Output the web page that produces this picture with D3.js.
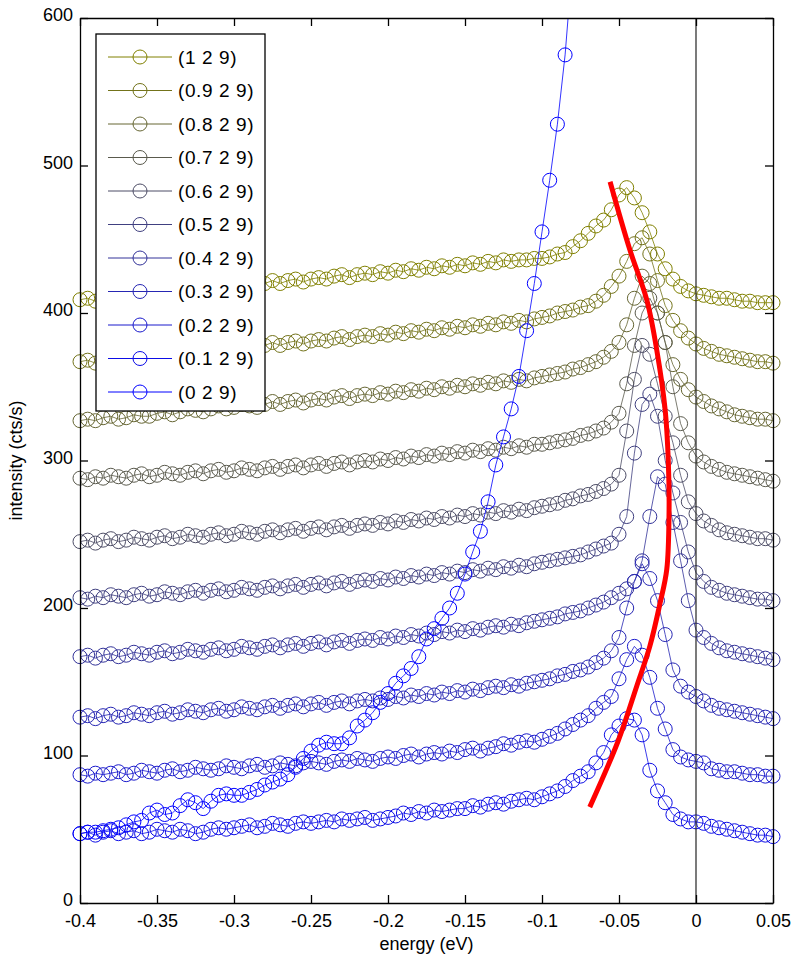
<!DOCTYPE html>
<html>
<head>
<meta charset="utf-8">
<script src="https://cdn.jsdelivr.net/npm/d3@7"></script>
<style>
  body { margin: 0; background: #fff; }
  text { font-family: "Liberation Sans", Arial, sans-serif; fill: #000; }
</style>
</head>
<body>
<svg id="chart" width="797" height="961"></svg>
<script>
// ========== DATA ==========
// energy grid (eV), shared by all scans
const energy = [-0.400,-0.395,-0.390,-0.385,-0.380,-0.375,-0.370,-0.365,-0.360,-0.355,
  -0.350,-0.345,-0.340,-0.335,-0.330,-0.325,-0.320,-0.315,-0.310,-0.305,
  -0.300,-0.295,-0.290,-0.285,-0.280,-0.275,-0.270,-0.265,-0.260,-0.255,
  -0.250,-0.245,-0.240,-0.235,-0.230,-0.225,-0.220,-0.215,-0.210,-0.205,
  -0.200,-0.195,-0.190,-0.185,-0.180,-0.175,-0.170,-0.165,-0.160,-0.155,
  -0.150,-0.145,-0.140,-0.135,-0.130,-0.125,-0.120,-0.115,-0.110,-0.105,
  -0.100,-0.095,-0.090,-0.085,-0.080,-0.075,-0.070,-0.065,-0.060,-0.055,
  -0.050,-0.045,-0.040,-0.035,-0.030,-0.025,-0.020,-0.015,-0.010,-0.005,
  0.000,0.005,0.010,0.015,0.020,0.025,0.030,0.035,0.040,0.045,0.050];

// intensity (cts/s), one array per (h 2 9) scan, offsets already included
const s129 = [409,410,408,410,411,410,411,413,412,412, 414,415,413,415,417,416,415,417,419,417,
  418,420,419,418,420,422,420,422,423,421, 423,424,423,425,426,424,426,427,426,428,
  427,429,428,430,429,431,430,432,431,433, 432,434,433,435,434,436,435,436,436,437,
  437,438,440,441,445,449,454,459,463,470, 480,485,478,468,455,440,430,423,418,415,
  413,412,411,410,410,409,408,408,407,407,407];
const s0929 = [367,368,366,368,369,368,369,371,370,370, 372,373,371,373,375,374,373,375,377,375,
  376,378,377,376,378,380,378,380,381,379, 381,382,381,383,384,382,384,385,384,386,
  385,387,386,388,387,389,388,390,389,391, 390,392,391,393,392,394,393,395,394,396,
  397,398,400,401,402,404,405,408,412,418, 425,435,447,451,440,422,405,395,388,383,
  379,376,374,372,371,370,369,368,367,367,366];
const s0829 = [327,328,327,329,330,328,329,331,330,330, 332,333,331,333,335,334,333,335,337,335,
  336,338,337,336,338,340,338,340,341,339, 341,342,341,343,344,342,344,345,344,346,
  345,347,346,348,347,349,348,350,349,351, 350,352,351,353,352,354,353,355,354,356,
  357,358,359,360,362,363,365,367,370,374, 380,392,410,425,420,400,380,365,355,348,
  343,340,337,335,333,331,330,329,328,328,327];
const s0729 = [288,287,289,288,290,289,288,290,291,289, 290,292,291,290,292,293,291,293,294,292,
  293,295,294,293,295,296,294,296,297,295, 297,298,296,298,299,297,299,300,299,301,
  300,302,301,303,302,304,303,305,304,306, 305,307,306,308,307,309,308,310,309,311,
  311,312,313,314,315,317,318,320,322,326, 332,352,378,400,410,400,380,350,325,312,
  303,299,296,294,292,291,290,289,288,287,286];
const s0629 = [245,246,244,246,247,245,246,248,247,246, 248,249,247,248,250,249,248,250,251,249,
  250,252,251,250,252,253,251,253,254,252, 254,255,253,255,256,254,256,257,256,258,
  257,259,258,260,259,261,260,262,261,263, 262,264,263,265,264,266,265,267,266,268,
  269,270,271,273,274,276,277,279,281,284, 290,320,355,378,372,352,330,312,290,272,
  264,259,256,253,251,250,249,248,247,247,246];
const s0529 = [207,206,208,207,209,208,207,209,210,208, 209,211,210,209,211,212,210,212,213,211,
  212,214,213,212,214,215,213,215,216,214, 216,217,215,217,218,216,218,219,218,220,
  219,221,220,222,221,223,222,224,223,225, 224,226,225,227,226,228,227,229,228,230,
  231,232,233,234,235,236,238,240,242,244, 250,262,305,338,345,330,300,278,258,238,
  224,218,214,212,210,209,208,207,206,206,205];
const s0429 = [167,168,166,168,169,167,168,170,169,168, 170,171,169,170,172,171,170,172,173,171,
  172,174,173,172,174,175,173,175,176,174, 176,177,175,177,178,176,178,179,178,180,
  179,181,180,182,181,183,182,184,183,185, 184,186,185,187,188,187,189,188,190,191,
  192,193,194,196,197,198,200,202,204,207, 210,213,218,232,262,289,284,258,232,205,
  185,180,176,173,171,170,169,168,167,166,165];
const s0329 = [126,127,125,127,128,126,127,129,128,127, 129,130,128,129,131,130,129,131,132,130,
  131,133,132,131,133,134,132,134,135,133, 135,136,134,136,137,135,137,138,137,139,
  138,140,139,141,140,142,141,143,142,144, 143,145,144,146,147,146,148,147,149,150,
  151,152,154,155,157,158,160,163,166,171, 180,200,218,230,220,205,182,158,147,143,
  140,137,134,132,131,130,129,128,127,126,125];
const s0229 = [87,86,88,87,88,89,87,88,90,89, 88,90,91,89,90,92,91,90,91,93,
  92,91,93,94,92,93,95,94,93,95, 96,95,94,96,97,96,98,97,96,98,
  99,98,100,101,99,101,102,101,103,102, 104,105,103,105,106,108,107,109,110,109,
  111,113,115,118,121,124,127,132,136,140, 152,165,174,168,153,132,118,104,99,97,
  96,95,91,90,89,89,88,87,87,86,86];
const s0129 = [47,48,46,48,49,47,48,49,47,48, 50,49,48,50,49,47,48,50,51,50,
  51,52,53,51,52,54,53,52,54,55, 54,55,56,55,57,56,57,58,56,57,
  58,59,61,60,62,61,63,62,63,64, 64,66,65,67,68,67,69,70,71,70,
  72,74,76,79,83,86,89,95,102,114, 120,125,124,114,90,76,68,60,57,55,
  55,54,52,51,50,49,48,47,46,46,45];
// (0 2 9) runs off the top of the axes after -0.08 eV
const s029 = [47,48,48,49,50,51,53,55,56,61, 63,60,61,66,70,68,64,69,73,74,
  73,73,75,77,80,82,84,87,92,98, 103,107,109,108,108,112,120,124,129,136,
  142,149,154,159,167,179,186,193,200,210, 223,238,252,272,297,316,335,357,388,420,
  455,490,528,575,640];

const legendLabels = ["(1 2 9)", "(0.9 2 9)", "(0.8 2 9)", "(0.7 2 9)", "(0.6 2 9)", "(0.5 2 9)",
  "(0.4 2 9)", "(0.3 2 9)", "(0.2 2 9)", "(0.1 2 9)", "(0 2 9)"];
const seriesColors = ["#808000", "#73731a", "#666633", "#5a5a4d", "#4d4d66", "#404080",
  "#333399", "#2626b3", "#1a1acc", "#0d0de6", "#0000ff"];
const seriesValues = [s129, s0929, s0829, s0729, s0629, s0529, s0429, s0329, s0229, s0129, s029];

// red guide curve drawn over the peaks
const redEnergy = [-0.069, -0.0505, -0.0385, -0.030, -0.0234, -0.019, -0.0175, -0.018, -0.020, -0.0255, -0.032, -0.043, -0.0558];
const redIntensity = [65, 110, 147, 174, 203, 226, 265, 300, 334, 375, 409, 443, 489];

const xTicks = [-0.4, -0.35, -0.3, -0.25, -0.2, -0.15, -0.1, -0.05, 0, 0.05];
const xTickLabels = ["-0.4", "-0.35", "-0.3", "-0.25", "-0.2", "-0.15", "-0.1", "-0.05", "0", "0.05"];
const yTicks = [0, 100, 200, 300, 400, 500, 600];
const yTickLabels = ["0", "100", "200", "300", "400", "500", "600"];

// ========== CHART AREA ==========
const width = 797, height = 961;
const margin = {top: 18, right: 24, bottom: 58, left: 80};

const svg = d3.select("#chart");

const xScale = d3.scaleLinear()
    .domain([-0.4, 0.05])
    .range([margin.left, width - margin.right]);

const yScale = d3.scaleLinear()
    .domain([0, 600])
    .range([height - margin.bottom, margin.top]);

// clip only the top, the markers may spill past the side axes
svg.append("defs").append("clipPath")
    .attr("id", "clip")
    .append("rect")
    .attr("x", 0)
    .attr("y", margin.top)
    .attr("width", width)
    .attr("height", height - margin.top);

// ========== SCANS ==========
const line = d3.line()
    .x((d, i) => xScale(energy[i]))
    .y(d => yScale(d));

const plot = svg.append("g").attr("clip-path", "url(#clip)");

seriesValues.forEach((vals, k) => {
    const g = plot.append("g");
    g.append("path")
        .attr("d", line(vals))
        .attr("fill", "none")
        .attr("stroke", seriesColors[k])
        .attr("stroke-width", 0.8);
    g.selectAll("circle")
        .data(vals)
        .join("circle")
        .attr("cx", (d, i) => xScale(energy[i]))
        .attr("cy", d => yScale(d))
        .attr("r", 7)
        .attr("fill", "none")
        .attr("stroke", seriesColors[k])
        .attr("stroke-width", 1);
});

// vertical line at zero energy
svg.append("line")
    .attr("x1", xScale(0)).attr("x2", xScale(0))
    .attr("y1", yScale(600)).attr("y2", yScale(0))
    .attr("stroke", "#222")
    .attr("stroke-width", 1.2);

// ========== AXES (box with inward ticks) ==========
const styleAxis = g => {
    g.select(".domain").attr("stroke", "#000").attr("stroke-width", 1.3);
    g.selectAll(".tick line").attr("stroke", "#000").attr("stroke-width", 1.3);
    g.selectAll("text")
        .attr("font-size", 18)
        .attr("font-family", "'Liberation Sans', Arial, sans-serif")
        .attr("fill", "#000");
};

svg.append("g")
    .attr("transform", `translate(0, ${yScale(0)})`)
    .call(d3.axisBottom(xScale).tickValues(xTicks).tickSize(-8).tickSizeOuter(0)
        .tickPadding(11).tickFormat((d, i) => xTickLabels[i]))
    .call(styleAxis);

svg.append("g")
    .attr("transform", `translate(0, ${yScale(600)})`)
    .call(d3.axisTop(xScale).tickValues(xTicks).tickSize(-8).tickSizeOuter(0).tickFormat(""))
    .call(styleAxis);

svg.append("g")
    .attr("transform", `translate(${xScale(-0.4)}, 0)`)
    .call(d3.axisLeft(yScale).tickValues(yTicks).tickSize(-8).tickSizeOuter(0)
        .tickPadding(7).tickFormat((d, i) => yTickLabels[i]))
    .call(styleAxis)
    .call(g => g.selectAll("text").attr("dy", "0.15em"));

svg.append("g")
    .attr("transform", `translate(${xScale(0.05)}, 0)`)
    .call(d3.axisRight(yScale).tickValues(yTicks).tickSize(-8).tickSizeOuter(0).tickFormat(""))
    .call(styleAxis);

// axis labels
svg.append("text")
    .text("energy (eV)")
    .attr("x", (xScale(-0.4) + xScale(0.05)) / 2)
    .attr("y", 950)
    .attr("text-anchor", "middle")
    .attr("font-size", 18);

svg.append("text")
    .text("intensity (cts/s)")
    .attr("transform", `translate(22, ${(yScale(0) + yScale(600)) / 2}) rotate(-90)`)
    .attr("text-anchor", "middle")
    .attr("font-size", 18);

// ========== RED GUIDE ==========
const redLine = d3.line()
    .x((d, i) => xScale(redEnergy[i]))
    .y(d => yScale(d))
    .curve(d3.curveCatmullRom);

svg.append("path")
    .attr("d", redLine(redIntensity))
    .attr("fill", "none")
    .attr("stroke", "#ff0000")
    .attr("stroke-width", 5);

// ========== LEGEND ==========
const legend = svg.append("g").attr("transform", "translate(96, 34)");

legend.append("rect")
    .attr("width", 169)
    .attr("height", 377)
    .attr("fill", "#fff")
    .attr("stroke", "#000")
    .attr("stroke-width", 1.3);

const items = legend.selectAll(".item")
    .data(legendLabels)
    .join("g")
    .attr("class", "item")
    .attr("transform", (d, i) => `translate(0, ${23 + i * 33.5})`);

items.append("line")
    .attr("x1", 12).attr("x2", 76)
    .attr("stroke", (d, i) => seriesColors[i])
    .attr("stroke-width", 1);

items.append("circle")
    .attr("cx", 44)
    .attr("r", 7)
    .attr("fill", "none")
    .attr("stroke", (d, i) => seriesColors[i])
    .attr("stroke-width", 1);

items.append("text")
    .text(d => d)
    .attr("x", 82)
    .attr("dy", "0.35em")
    .attr("font-size", 19)
    .attr("letter-spacing", 0.6);
</script>
</body>
</html>
